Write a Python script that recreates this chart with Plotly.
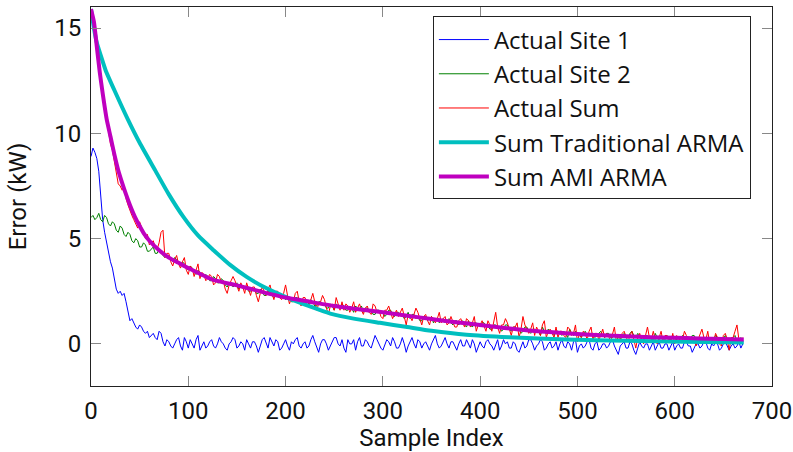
import plotly.graph_objects as go

# ---------------- data ----------------
sample_step = 2  # values below are read every 2nd sample index (0, 2, ..., 670)

site1 = [
    8.9, 9.3, 9.1, 8.8, 8.2, 7.0, 5.9, 5.3, 4.8, 4.4,
    3.9, 3.6, 3.0, 2.6, 2.4, 2.5, 2.3, 2.4, 2.0, 1.5,
    1.1, 1.2, 1.0, 0.8, 0.7, 0.9, 0.8, 0.6, 0.5, 0.6,
    0.3, 0.4, 0.5, 0.3, 0.2, 0.6, 0.5, 0.1, -0.1, 0.2,
    0.1, -0.1, -0.2, 0.0, 0.2, 0.3, -0.1, -0.3, 0.3, 0.1, -0.2, 0.2, 0.0, -0.2, 0.2, 0.4, -0.3, -0.1, 0.1, -0.2,
    -0.1, 0.1, 0.2, -0.1, -0.2, 0.0, 0.3, 0.1, 0.0, -0.2, -0.3, 0.0, 0.1, 0.3, 0.2, -0.2, -0.1, 0.1, 0.0, -0.3,
    0.2, 0.0, -0.2, 0.1, 0.1, -0.1, -0.4, -0.1, 0.2, 0.3, 0.0, -0.2, 0.3, 0.1, -0.1, 0.2, 0.1, -0.3, -0.2, 0.0,
    0.2, -0.1, -0.3, 0.1, 0.0, 0.2, 0.3, -0.1, -0.2, 0.0, 0.1, -0.2, -0.1, 0.2, 0.4, 0.1, -0.2, -0.4, 0.0, 0.2,
    0.2, 0.0, -0.3, -0.1, 0.1, 0.3, 0.3, 0.0, -0.1, 0.2, -0.2, -0.4, 0.2, 0.0, 0.0, 0.2, -0.3, 0.1, 0.3, -0.1,
    -0.1, 0.2, 0.1, -0.1, -0.2, 0.1, 0.4, 0.2, 0.0, -0.2, -0.3, 0.0, 0.2, 0.1, -0.1, 0.3, 0.1, -0.2, -0.2, 0.0,
    0.3, 0.0, -0.4, -0.1, 0.1, 0.3, 0.0, -0.2, 0.2, 0.1, -0.2, 0.0, 0.1, -0.1, -0.3, 0.0, 0.2, 0.4, 0.0, -0.2,
    -0.1, 0.1, 0.3, 0.0, -0.2, 0.1, 0.1, -0.1, -0.3, 0.0, 0.2, -0.1, -0.1, 0.2, 0.0, -0.2, 0.2, 0.0, -0.4, -0.1,
    0.1, -0.1, -0.2, 0.1, 0.2, 0.0, -0.1, -0.3, 0.0, 0.2, -0.3, -0.1, 0.2, 0.0, 0.1, -0.2, -0.2, 0.1, 0.0, -0.3,
    -0.4, -0.1, 0.1, -0.2, -0.1, 0.2, 0.2, 0.0, -0.3, -0.1, 0.0, 0.2, 0.1, -0.3, -0.2, 0.0, 0.1, -0.2, -0.1, 0.1,
    -0.3, 0.0, 0.2, -0.1, -0.2, 0.1, 0.0, -0.3, 0.1, 0.2, -0.4, -0.1, 0.0, -0.2, -0.1, 0.1, 0.2, -0.2, -0.3, 0.0,
    0.1, -0.3, -0.2, 0.0, 0.0, -0.2, -0.1, 0.1, 0.2, -0.1, -0.3, -0.5, -0.1, 0.0, 0.1, -0.2, -0.2, 0.1, 0.0, -0.3,
    -0.5, -0.2, 0.1, -0.1, -0.2, 0.0, 0.0, -0.3, -0.1, 0.1, -0.3, -0.1, 0.1, -0.2, -0.2, 0.0, 0.0, -0.3, -0.1, 0.1,
    -0.3, -0.1, 0.0, -0.2, -0.2, 0.1, 0.1, -0.1, -0.1, -0.4, -0.2, 0.0, 0.0, -0.2, -0.1, 0.1, 0.1, -0.2, -0.3, 0.0,
    -0.1, 0.1, 0.0, -0.3, -0.2, 0.0, 0.1, -0.1, -0.3, -0.1, 0.0, -0.2, -0.1, 0.1, -0.2, 0.0,
]

site2 = [
    6.0, 6.1, 5.9, 6.0, 6.2, 5.9, 5.8, 6.1, 6.0, 5.7,
    5.6, 5.8, 5.7, 5.4, 5.3, 5.6, 5.5, 5.2, 5.1, 5.3,
    5.2, 4.9, 4.8, 5.0, 4.9, 4.6, 4.6, 4.8, 4.7, 4.4,
    4.4, 4.5, 4.6, 4.3, 4.3, 4.5, 4.4, 4.2, 4.1, 4.2,
    4.2, 4.0, 3.9, 4.1, 4.0, 3.8, 3.7, 3.9, 3.8, 3.6, 3.5, 3.7, 3.6, 3.4, 3.3, 3.5, 3.4, 3.2, 3.2, 3.3,
    3.2, 3.0, 3.0, 3.2, 3.1, 2.9, 2.9, 3.1, 3.0, 2.8, 2.7, 2.9, 2.9, 2.7, 2.8, 2.9, 2.6, 2.8, 2.7, 2.6,
    2.7, 2.5, 2.5, 2.6, 2.6, 2.4, 2.4, 2.6, 2.5, 2.3, 2.3, 2.5, 2.5, 2.3, 2.2, 2.4, 2.4, 2.2, 2.3, 2.2,
    2.1, 2.3, 2.2, 2.0, 2.0, 2.2, 2.2, 2.0, 2.0, 1.9, 2.1, 2.0, 1.9, 2.1, 2.0, 1.8, 1.8, 2.0, 2.0, 1.9,
    1.9, 1.7, 1.7, 1.9, 1.8, 1.6, 1.9, 1.8, 1.7, 1.9, 1.8, 1.6, 1.6, 1.8, 1.7, 1.5, 1.8, 1.7, 1.6, 1.8,
    1.5, 1.7, 1.7, 1.5, 1.6, 1.4, 1.4, 1.6, 1.6, 1.5, 1.5, 1.3, 1.4, 1.6, 1.6, 1.4, 1.3, 1.5, 1.5, 1.4,
    1.4, 1.2, 1.3, 1.5, 1.2, 1.4, 1.4, 1.2, 1.3, 1.1, 1.1, 1.3, 1.3, 1.1, 1.2, 1.3, 1.0, 1.2, 1.2, 1.0,
    1.1, 1.2, 1.0, 1.1, 1.2, 1.0, 0.9, 1.1, 1.1, 0.9, 1.0, 1.1, 0.9, 0.8, 1.1, 0.9, 0.8, 1.0, 1.0, 0.9,
    0.8, 1.0, 1.0, 0.8, 0.9, 0.7, 0.7, 0.9, 0.9, 0.8, 0.8, 0.6, 0.7, 0.9, 0.9, 0.7, 0.6, 0.8, 0.8, 0.7,
    0.7, 0.5, 0.6, 0.8, 0.8, 0.6, 0.5, 0.7, 0.7, 0.6, 0.6, 0.4, 0.8, 0.6, 0.5, 0.7, 0.6, 0.5, 0.4, 0.6,
    0.6, 0.5, 0.4, 0.6, 0.5, 0.3, 0.7, 0.5, 0.4, 0.6, 0.5, 0.4, 0.3, 0.5, 0.6, 0.4, 0.4, 0.5, 0.5, 0.3,
    0.4, 0.5, 0.6, 0.4, 0.3, 0.5, 0.5, 0.3, 0.3, 0.4, 0.4, 0.2, 0.2, 0.4, 0.5, 0.3, 0.3, 0.5, 0.6, 0.4,
    0.3, 0.5, 0.4, 0.2, 0.2, 0.4, 0.4, 0.3, 0.3, 0.1, 0.5, 0.3, 0.2, 0.4, 0.3, 0.2, 0.4, 0.2, 0.2, 0.4,
    0.3, 0.2, 0.1, 0.3, 0.4, 0.2, 0.3, 0.1, 0.2, 0.4, 0.4, 0.2, 0.2, 0.3, 0.3, 0.1, 0.1, 0.3, 0.3, 0.2,
    0.2, 0.4, 0.3, 0.1, 0.1, 0.3, 0.4, 0.2, 0.2, 0.1, 0.3, 0.4, 0.1, 0.2, 0.3, 0.2,
]

actual_sum = [
    15.9, 15.5, 15.0, 14.3, 13.6, 12.6, 11.8, 11.2, 10.7, 10.1,
    9.5, 9.2, 8.7, 8.1, 7.6, 7.5, 7.3, 7.4, 6.9, 6.6,
    6.3, 6.1, 5.9, 5.7, 5.5, 5.8, 5.5, 5.3, 5.0, 5.2,
    4.7, 4.8, 4.9, 4.6, 4.5, 4.8, 5.3, 5.4, 4.1, 4.3,
    4.3, 3.9, 3.7, 4.0, 4.2, 3.8, 3.6, 3.9, 4.1, 3.5, 3.3, 3.7, 3.6, 3.2, 3.5, 3.8, 3.1, 3.4, 3.3, 3.0,
    3.1, 3.3, 3.2, 2.8, 2.9, 3.3, 3.2, 2.9, 3.0, 2.6, 2.4, 2.8, 3.0, 3.2, 3.0, 2.7, 2.5, 2.9, 2.7, 2.4,
    2.9, 2.6, 2.3, 2.7, 2.7, 2.3, 2.0, 2.4, 2.7, 2.5, 2.3, 2.6, 2.8, 2.4, 2.1, 2.5, 2.5, 2.2, 2.1, 2.4,
    2.8, 2.3, 1.9, 2.2, 2.0, 2.4, 2.5, 2.0, 1.8, 2.2, 2.2, 1.9, 1.8, 2.1, 2.4, 2.0, 1.6, 1.9, 2.0, 2.3,
    2.1, 1.7, 1.4, 1.8, 1.9, 1.6, 2.2, 1.9, 1.6, 2.0, 1.6, 1.9, 1.8, 1.5, 1.7, 2.0, 1.5, 1.7, 1.9, 1.6,
    1.4, 1.7, 1.8, 1.5, 1.4, 1.9, 1.8, 1.5, 1.6, 1.3, 1.2, 1.6, 1.6, 1.8, 1.5, 1.2, 1.4, 1.6, 1.3, 1.5,
    1.7, 1.3, 0.9, 1.4, 1.3, 1.1, 1.4, 1.7, 1.5, 1.2, 0.9, 1.3, 1.4, 1.1, 0.9, 1.3, 1.2, 1.0, 1.2, 1.5,
    1.0, 1.2, 1.3, 0.9, 1.0, 1.3, 1.0, 0.8, 0.8, 1.1, 1.2, 1.0, 0.8, 1.2, 1.1, 0.8, 1.0, 1.3, 0.6, 0.9,
    0.9, 1.1, 0.8, 0.6, 1.1, 0.9, 0.6, 1.0, 1.5, 0.8, 0.5, 0.9, 0.9, 1.2, 1.0, 0.7, 0.4, 0.8, 0.8, 1.0,
    0.3, 0.7, 1.3, 0.9, 0.7, 0.5, 0.7, 1.0, 0.4, 0.8, 0.6, 0.4, 0.9, 1.1, 0.3, 0.6, 0.7, 0.5, 0.3, 0.8,
    0.3, 0.6, 0.6, 0.4, 0.3, 0.8, 0.7, 0.4, 0.5, 0.9, 0.1, 0.5, 0.3, 0.6, 0.5, 0.2, 0.6, 0.8, 0.2, 0.5,
    0.5, 0.2, 0.4, 0.7, 0.3, 0.5, 0.4, 0.1, 0.5, 0.8, 0.1, 0.4, 0.1, 0.5, 0.6, 0.3, 0.1, 0.4, 0.6, 0.2,
    -0.2, 0.3, 0.5, 0.2, 0.0, 0.4, 0.8, 0.3, 0.2, 0.6, 0.2, 0.0, 0.3, 0.6, 0.1, 0.4, 0.4, 0.1, 0.1, 0.5,
    0.0, 0.4, 0.1, 0.3, 0.2, 0.6, 0.4, 0.1, 0.1, 0.3, 0.2, -0.1, 0.2, 0.5, 0.7, 0.3, 0.2, 0.6, 0.0, 0.2,
    0.1, 0.5, 0.3, 0.0, -0.1, 0.4, 0.5, 0.2, -0.3, 0.3, 0.3, 0.6, 0.9, 0.2, 0.1, 0.3,
]

trad_x = [0, 3, 6, 10, 15, 25, 38, 50, 66, 80, 95, 110, 126, 143, 160,
          180, 204, 225, 246, 270, 297, 325, 350, 386, 430, 489, 550, 610, 671]
trad_y = [15.9, 15.0, 14.3, 13.7, 13.0, 11.95, 10.65, 9.55, 8.24, 7.1, 6.03,
          5.15, 4.45, 3.75, 3.18, 2.65, 2.15, 1.78, 1.44, 1.2, 1.0, 0.8,
          0.62, 0.43, 0.31, 0.21, 0.15, 0.1, 0.07]

ami_x = [0, 3, 6, 9, 12, 16, 20, 24, 28, 32, 36, 40, 45, 50, 55, 60, 70, 80,
         90, 100, 125, 150, 175, 200, 225, 250, 275, 300, 325, 350, 375, 400,
         425, 450, 475, 500, 525, 550, 575, 600, 625, 650, 671]
ami_y = [15.9, 15.3, 14.1, 12.9, 11.9, 10.7, 9.85, 9.0, 8.25, 7.65, 7.1, 6.6,
         6.05, 5.6, 5.2, 4.9, 4.45, 4.1, 3.85, 3.6, 3.05, 2.78, 2.48, 2.2, 2.0,
         1.8, 1.65, 1.5, 1.34, 1.18, 1.03, 0.9, 0.76, 0.64, 0.55, 0.47, 0.41,
         0.36, 0.32, 0.29, 0.26, 0.23, 0.21]

x_ticks = [0, 100, 200, 300, 400, 500, 600, 700]
y_ticks = [0, 5, 10, 15]


def sample_index(values):
    return [i * sample_step for i in range(len(values))]


# ---------------- figure ----------------
FONT = "Roboto"
FS = 24
fig = go.Figure()
fig.add_trace(go.Scatter(x=sample_index(site1), y=site1, mode="lines", name="Actual Site 1",
                         line=dict(color="#0000ff", width=1)))
fig.add_trace(go.Scatter(x=sample_index(site2), y=site2, mode="lines", name="Actual Site 2",
                         line=dict(color="#008000", width=1)))
fig.add_trace(go.Scatter(x=sample_index(actual_sum), y=actual_sum, mode="lines", name="Actual Sum",
                         line=dict(color="#ff0000", width=1)))
fig.add_trace(go.Scatter(x=trad_x, y=trad_y, mode="lines", name="Sum Traditional ARMA",
                         line=dict(color="#00bfbf", width=4, shape="spline", smoothing=0.6)))
fig.add_trace(go.Scatter(x=ami_x, y=ami_y, mode="lines", name="Sum AMI ARMA",
                         line=dict(color="#bf00bf", width=4, shape="spline", smoothing=0.6)))

axis_common = dict(
    showline=True, linecolor="#222222", linewidth=1, mirror="allticks",
    ticks="inside", ticklen=10, tickcolor="#888888", tickwidth=1,
    showgrid=False, zeroline=False, automargin=False,
    tickfont=dict(family=FONT, size=FS, color="#111111"),
)

fig.update_layout(
    width=793, height=452,
    margin=dict(l=91, r=21, t=7, b=66),
    paper_bgcolor="white", plot_bgcolor="white",
    font=dict(family=FONT, size=FS, color="#111111"),
    showlegend=True,
    legend=dict(
        x=0.969, y=0.975, xanchor="right", yanchor="top",
        bgcolor="white", bordercolor="#222222", borderwidth=1,
        font=dict(family="Open Sans", size=24, color="#111111"),
        tracegroupgap=0, itemwidth=50,
    ),
    xaxis=dict(range=[0, 700], tickvals=x_ticks, ticklabelstandoff=3,
               title=dict(text="Sample Index", font=dict(family=FONT, size=FS), standoff=9),
               **axis_common),
    yaxis=dict(range=[-2, 16], tickvals=y_ticks, ticklabelstandoff=4,
               title=dict(text="Error (kW)", font=dict(family=FONT, size=FS), standoff=20),
               **axis_common),
)

# remove the browser's default 8 px body margin so the figure fills the window
fig.write_html("out.html", config={"displayModeBar": False},
               post_script="document.body.style.margin='0';")
